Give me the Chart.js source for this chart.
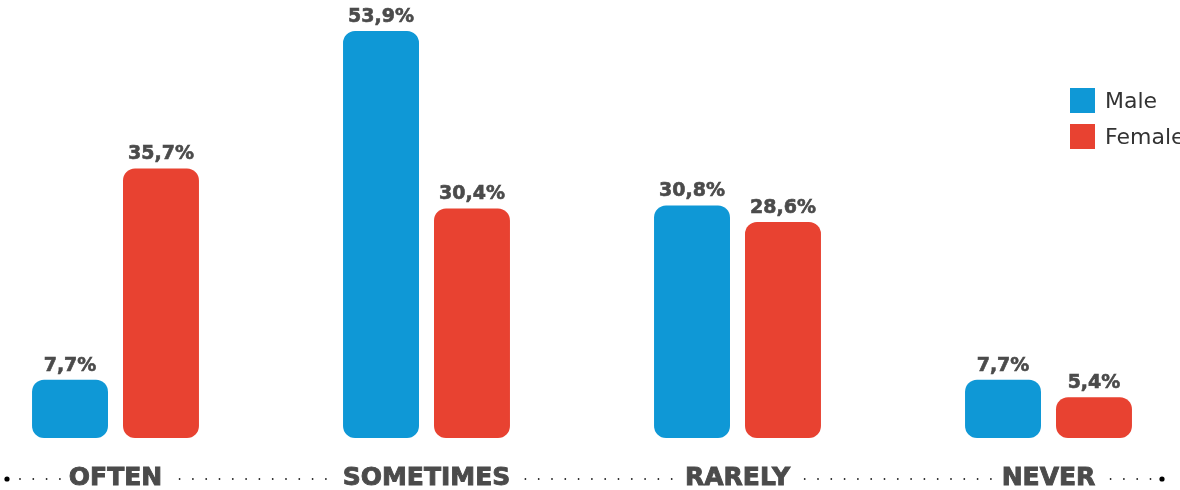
<!DOCTYPE html>
<html>
<head>
<meta charset="utf-8">
<script src="https://cdn.jsdelivr.net/npm/chart.js@4"></script>
<style>
  html, body { margin: 0; padding: 0; background: #fff; overflow: hidden; }
  #chart { display: block; }
</style>
</head>
<body>
<canvas id="chart" width="1180" height="490"></canvas>
<script>
const categories = ["OFTEN", "SOMETIMES", "RARELY", "NEVER"];
const seriesNames = ["Male", "Female"];
const maleValues = [7.7, 53.9, 30.8, 7.7];
const femaleValues = [35.7, 30.4, 28.6, 5.4];

const colors = ["#0f98d6", "#e84231"];
const textColor = "#4b4b4b";
const fontFamily = "'DejaVu Sans', sans-serif";

const fmt = v => v.toFixed(1).replace(".", ",") + "%";

// value labels above each bar
const valueLabels = {
  id: "valueLabels",
  afterDatasetsDraw(chart) {
    const c = chart.ctx;
    c.save();
    c.font = "bold 19px " + fontFamily;
    c.fillStyle = textColor;
    c.strokeStyle = textColor;
    c.lineWidth = 0.6;
    c.textAlign = "center";
    c.textBaseline = "alphabetic";
    chart.data.datasets.forEach((ds, i) => {
      chart.getDatasetMeta(i).data.forEach((bar, j) => {
        c.fillText(fmt(ds.data[j]), bar.x, bar.y - 9);
        c.strokeText(fmt(ds.data[j]), bar.x, bar.y - 9);
      });
    });
    c.restore();
  }
};

// dotted baseline with category names
const categoryAxis = {
  id: "categoryAxis",
  afterDraw(chart) {
    const c = chart.ctx;
    const x = chart.scales.x;
    const y = 478;
    c.save();
    c.font = "bold 25px " + fontFamily;
    c.fillStyle = textColor;
    c.strokeStyle = textColor;
    c.lineWidth = 0.9;
    c.textAlign = "center";
    c.textBaseline = "middle";

    const gaps = [];
    categories.forEach((cat, i) => {
      const px = x.getPixelForValue(i);
      const w = c.measureText(cat).width;
      c.fillText(cat, px, y);
      c.strokeText(cat, px, y);
      gaps.push([px - w / 2 - 8, px + w / 2 + 8]);
    });

    const start = 7, end = 1162;
    c.fillStyle = "#222";
    for (let d = start + 13; d < end - 6; d += 13.3) {
      if (gaps.some(g => d > g[0] && d < g[1])) continue;
      c.beginPath();
      c.arc(d, y + 1, 0.9, 0, Math.PI * 2);
      c.fill();
    }
    c.fillStyle = "#000";
    [start, end].forEach(d => {
      c.beginPath();
      c.arc(d, y + 1, 2.6, 0, Math.PI * 2);
      c.fill();
    });
    c.restore();
  }
};

// legend in the top right corner
const sideLegend = {
  id: "sideLegend",
  afterDraw(chart) {
    const c = chart.ctx;
    c.save();
    c.font = "22px " + fontFamily;
    c.textBaseline = "middle";
    chart.data.datasets.forEach((ds, i) => {
      const top = 88 + i * 36;
      c.fillStyle = ds.backgroundColor;
      c.fillRect(1070, top, 25, 25);
      c.fillStyle = "#333";
      c.fillText(ds.label, 1105, top + 14);
    });
    c.restore();
  }
};

new Chart(document.getElementById("chart"), {
  type: "bar",
  data: {
    labels: categories,
    datasets: [
      { label: seriesNames[0], data: maleValues, backgroundColor: colors[0] },
      { label: seriesNames[1], data: femaleValues, backgroundColor: colors[1] }
    ]
  },
  options: {
    responsive: false,
    animation: false,
    devicePixelRatio: 1,
    layout: { padding: { left: 115.5, right: 131.5, top: 0, bottom: 52 } },
    datasets: {
      bar: {
        borderRadius: 12,
        borderSkipped: false,
        categoryPercentage: 0.585,
        barPercentage: 0.835,
        clip: false
      }
    },
    scales: {
      x: { display: false, offset: false },
      y: { display: false, min: 0, max: 58 }
    },
    plugins: {
      legend: { display: false },
      tooltip: { enabled: false }
    }
  },
  plugins: [valueLabels, categoryAxis, sideLegend]
});
</script>
</body>
</html>
